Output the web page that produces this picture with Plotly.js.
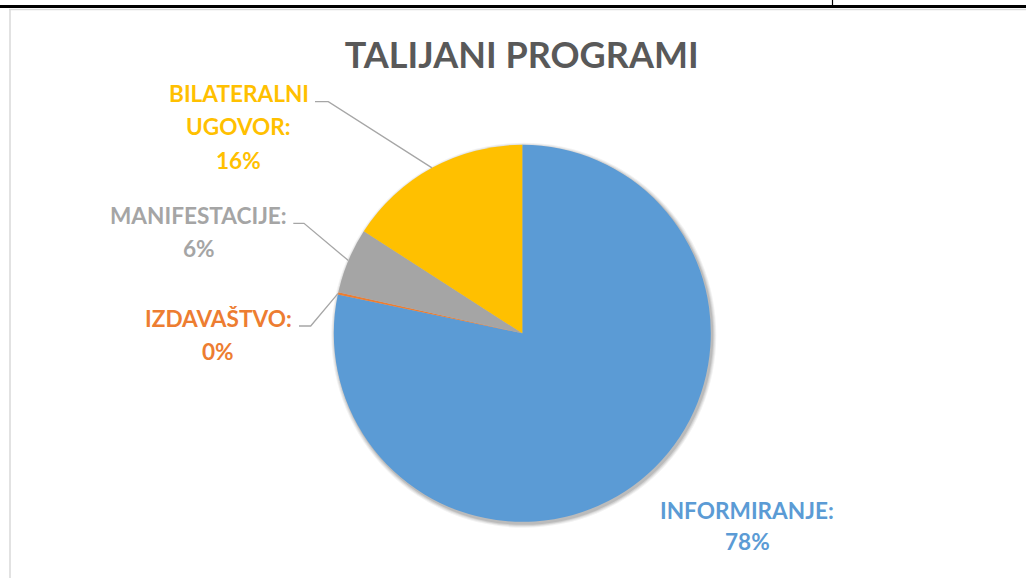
<!DOCTYPE html>
<html>
<head>
<meta charset="utf-8">
<script src="https://cdn.plot.ly/plotly-3.0.1.min.js"></script>
<style>html,body{margin:0;padding:0;background:#fff;}#chart{width:1026px;height:578px;}</style>
</head>
<body>
<div id="chart"></div>
<script>
// ---- data ----
const categories = ['INFORMIRANJE', 'IZDAVAŠTVO', 'MANIFESTACIJE', 'BILATERALNI UGOVOR'];
const values = [78.3, 0.2, 5.6, 15.9];
const colors = ['#5B9BD5', '#ED7D31', '#A5A5A5', '#FFC000'];
const labelLines = [['INFORMIRANJE:'], ['IZDAVAŠTVO:'], ['MANIFESTACIJE:'], ['BILATERALNI', 'UGOVOR:']];
const chartTitle = 'TALIJANI PROGRAMI';

// ---- layout constants (pixels) ----
const W = 1026, H = 578;
const CX = 522.3, CY = 333.3, R = 188.5;
const FONT = 'Lato, "Open Sans", sans-serif';
const labelPos = [
  {x: 747, y: 510, dy: 31, leader: null},
  {x: 218, y: 318, dy: 33.5, leader: [[299, 326], [310.7, 326]]},
  {x: 198.5, y: 215, dy: 33, leader: [[293.3, 223.3], [304, 223.3]]},
  {x: 238.5, y: 93, dy: 33.5, leader: [[315, 101.7], [328.3, 101.7]]}
];

const px = x => x / W;
const py = y => 1 - y / H;

const total = values.reduce((a, b) => a + b, 0);
const annotations = [];
const shapes = [];

// frame
shapes.push({type: 'rect', xref: 'paper', yref: 'paper', x0: 0, x1: 1, y0: py(8), y1: py(5), fillcolor: '#000', line: {width: 0}, layer: 'above'});
shapes.push({type: 'line', xref: 'paper', yref: 'paper', x0: px(832.5), x1: px(832.5), y0: py(0), y1: py(6), line: {color: '#000', width: 1.2}});
shapes.push({type: 'line', xref: 'paper', yref: 'paper', x0: px(10), x1: px(10), y0: py(9), y1: py(578), line: {color: '#D9D9D9', width: 1.5}});
shapes.push({type: 'line', xref: 'paper', yref: 'paper', x0: px(9), x1: px(1026), y0: py(9.5), y1: py(9.5), line: {color: '#D9D9D9', width: 1.5}});

// soft shadow behind pie
[[4, 0.05], [3, 0.06], [2, 0.08], [1, 0.10]].forEach(([d, op]) => {
  shapes.push({type: 'circle', xref: 'paper', yref: 'paper', layer: 'below',
    x0: px(CX - R - d + 1.5), x1: px(CX + R + d + 1.5), y0: py(CY + R + d + 2), y1: py(CY - R - d + 2),
    fillcolor: 'rgba(0,0,0,' + op + ')', line: {width: 0}});
});

let cum = 0;
values.forEach((v, i) => {
  const mid = 2 * Math.PI * (cum + v / 2) / total;
  cum += v;
  const ex = CX + R * Math.sin(mid), ey = CY - R * Math.cos(mid);
  const lp = labelPos[i];
  const lines = labelLines[i].concat([Math.round(v / total * 100) + '%']);
  lines.forEach((t, k) => {
    annotations.push({xref: 'paper', yref: 'paper', x: px(lp.x), y: py(lp.y + k * lp.dy),
      xanchor: 'center', yanchor: 'middle', showarrow: false, text: t,
      font: {family: FONT, size: 22.6, color: colors[i], weight: 700}});
  });
  if (lp.leader) {
    const p = lp.leader;
    shapes.push({type: 'path', xref: 'paper', yref: 'paper', layer: 'above',
      path: 'M' + px(p[0][0]) + ',' + py(p[0][1]) + ' L' + px(p[1][0]) + ',' + py(p[1][1]) + ' L' + px(ex) + ',' + py(ey),
      line: {color: '#A6A6A6', width: 1.3}});
  }
});

const trace = {
  type: 'pie',
  labels: categories,
  values: values,
  marker: {colors: colors, line: {width: 0}},
  sort: false,
  direction: 'clockwise',
  rotation: 0,
  textinfo: 'none',
  hoverinfo: 'label+percent',
  showlegend: false,
  domain: {x: [px(CX - R), px(CX + R)], y: [py(CY + R), py(CY - R)]}
};

const layout = {
  width: W, height: H,
  margin: {l: 0, r: 0, t: 0, b: 0},
  paper_bgcolor: '#fff',
  showlegend: false,
  title: {text: chartTitle, x: px(521.7), xanchor: 'center', y: py(55), yanchor: 'middle',
    font: {family: FONT, size: 36, color: '#595959', weight: 700}},
  annotations: annotations,
  shapes: shapes
};

Plotly.newPlot('chart', [trace], layout, {displayModeBar: false, staticPlot: true});
</script>
</body>
</html>
